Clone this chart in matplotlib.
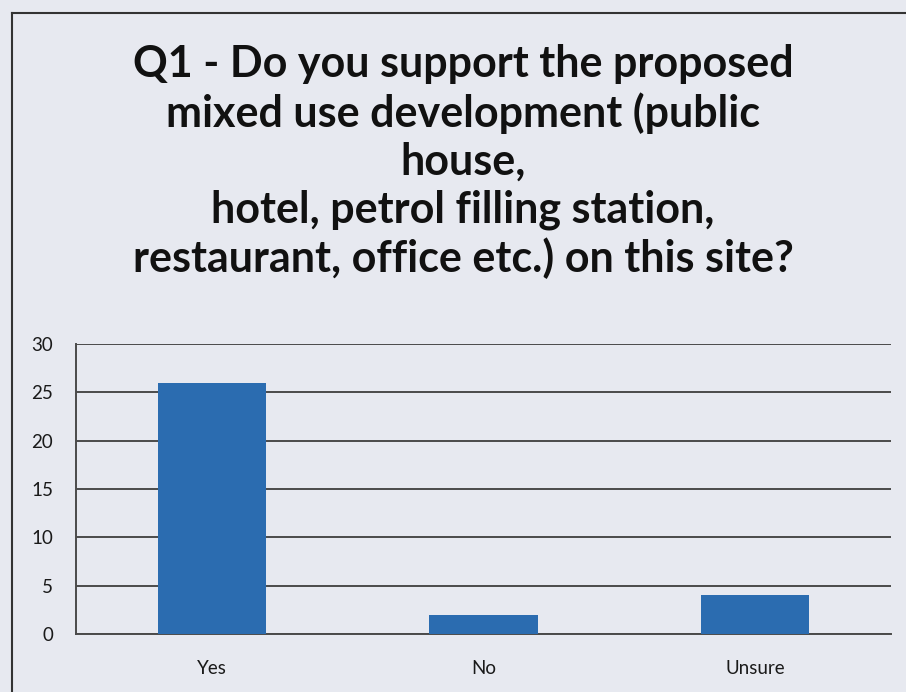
import matplotlib
matplotlib.use("Agg")
import matplotlib.pyplot as plt
from matplotlib.lines import Line2D

# Survey responses
answers = ["Yes", "No", "Unsure"]
counts = [26, 2, 4]
y_ticks = [0, 5, 10, 15, 20, 25, 30]
title = ("Q1 - Do you support the proposed\n"
         "mixed use development (public\n"
         "house,\n"
         "hotel, petrol filling station,\n"
         "restaurant, office etc.) on this site?")

bg = "#e7e9f0"
plt.rcParams["font.family"] = ["Lato", "DejaVu Sans"]

fig = plt.figure(figsize=(9.06, 6.92), dpi=100, facecolor=bg)
ax = fig.add_axes([0.0839, 0.0838, 0.8995, 0.4191])
ax.set_facecolor(bg)

x = range(len(answers))
ax.bar(x, counts, width=0.4, color="#2b6cb0", zorder=3)

ax.set_xlim(-0.5, len(answers) - 0.5)
ax.set_ylim(0, 30)
ax.set_yticks(y_ticks)
ax.set_xticks(list(x))
ax.set_xticklabels(answers)
ax.yaxis.grid(True, color="#4a4a4a", linewidth=1.4, zorder=1)
ax.tick_params(axis="both", length=0, labelsize=13.5, labelcolor="#1a1a1a")
ax.tick_params(axis="y", pad=16.5)
ax.tick_params(axis="x", pad=19)
for s in ["top", "right"]:
    ax.spines[s].set_visible(False)
ax.spines["left"].set_color("#4a4a4a")
ax.spines["left"].set_linewidth(1.4)
ax.spines["bottom"].set_color("#4a4a4a")
ax.spines["bottom"].set_linewidth(1.4)

fig.text(0.511, 0.766, title, ha="center", va="center", fontsize=31,
         fontweight="bold", color="#111111", linespacing=1.23)

# chart frame (left and top edges)
fig.add_artist(Line2D([0.0135, 0.0135], [0.0, 0.981], color="#333333", lw=1.5))
fig.add_artist(Line2D([0.0135, 1.0], [0.981, 0.981], color="#333333", lw=1.5))

fig.savefig("out.png", dpi=100, facecolor=bg)
